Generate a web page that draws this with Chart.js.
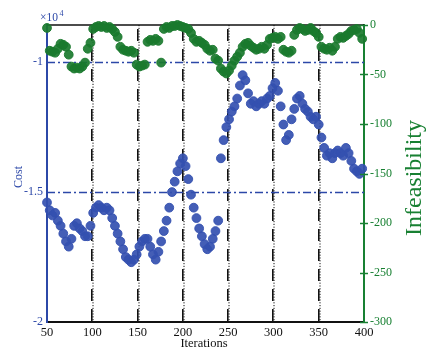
<!DOCTYPE html>
<html lang="en">
  <head>
    <meta charset="utf-8" />
    <title>Cost and infeasibility</title>
    <style>
      * {
        margin: 0;
        padding: 0;
      }
      body {
        background: #fff;
      }
      .chartBox {
        width: 426px;
        height: 352px;
      }
    </style>
  </head>
  <body>
    <div class="chartBox">
      <canvas id="myChart" width="426" height="352"></canvas>
    </div>
    <script src="https://cdn.jsdelivr.net/npm/chart.js/dist/chart.umd.min.js"></script>
    <script>
      // setup
      const iterations = [
        50, 53, 56, 59, 62, 65, 68, 71, 74, 77, 80, 83, 86, 89, 92, 95, 98,
        101, 104, 107, 110, 113, 116, 119, 122, 125, 128, 131, 134, 137, 140,
        143, 146, 149, 152, 155, 158, 161, 164, 167, 170, 173, 176, 179, 182,
        185, 188, 191, 194, 197, 200, 203, 206, 209, 212, 215, 218, 221, 224,
        227, 230, 233, 236, 239, 242, 245, 248, 251, 254, 257, 260, 263, 266,
        269, 272, 275, 278, 281, 284, 287, 290, 293, 296, 299, 302, 305, 308,
        311, 314, 317, 320, 323, 326, 329, 332, 335, 338, 341, 344, 347, 350,
        353, 356, 359, 362, 365, 368, 371, 374, 377, 380, 383, 386, 389, 392,
        395, 398,
      ];

      // cost in units of 10^4
      const cost = [
        -1.54, -1.57, -1.59, -1.58, -1.61, -1.63, -1.66, -1.69, -1.71, -1.68,
        -1.63, -1.62, -1.64, -1.65, -1.67, -1.67, -1.63, -1.58, -1.56, -1.55,
        -1.56, -1.57, -1.56, -1.57, -1.6, -1.63, -1.66, -1.69, -1.72, -1.75,
        -1.76, -1.77, -1.76, -1.74, -1.71, -1.69, -1.68, -1.68, -1.71, -1.74,
        -1.76, -1.73, -1.69, -1.65, -1.61, -1.56, -1.5, -1.46, -1.42, -1.39,
        -1.37, -1.4, -1.45, -1.51, -1.56, -1.6, -1.64, -1.67, -1.7, -1.72,
        -1.71, -1.68, -1.65, -1.61, -1.37, -1.3, -1.25, -1.22, -1.19, -1.17,
        -1.14, -1.09, -1.05, -1.07, -1.12, -1.16, -1.15, -1.17, -1.16, -1.15,
        -1.16, -1.14, -1.13, -1.1, -1.08, -1.11, -1.17, -1.24, -1.3, -1.28,
        -1.22, -1.18, -1.14, -1.13, -1.16, -1.18, -1.19, -1.21, -1.22, -1.21,
        -1.24, -1.29, -1.33, -1.36, -1.35, -1.37, -1.35, -1.34, -1.35, -1.36,
        -1.33, -1.35, -1.38, -1.41, -1.42, -1.43, -1.41,
      ];

      const infeasibility = [
        -3, -26, -27, -28, -24, -19, -20, -22, -30, -42, -44, -43, -44, -42,
        -38, -24, -18, -4, -2, -1, -2, -1, -3, -2, -4, -7, -12, -22, -25, -26,
        -27, -26, -28, -40, -42, -41, -40, -17, -15, -16, -14, -16, -38, -4,
        -2, -3, -1, -1, 0, -1, -2, -3, -4, -8, -14, -17, -16, -18, -20, -24,
        -26, -25, -34, -36, -44, -47, -49, -46, -41, -36, -32, -28, -22, -19,
        -18, -21, -23, -25, -24, -22, -24, -20, -14, -13, -12, -14, -12, -25,
        -27, -28, -26, -10, -5, -3, -4, -6, -5, -3, -6, -8, -12, -22, -24,
        -25, -23, -26, -22, -14, -12, -13, -11, -9, -6, -5, -4, -8, -14,
      ];

      const iterationTicks = [50, 100, 150, 200, 250, 300, 350, 400];
      const gridIterations = [100, 150, 200, 250, 300, 350];
      const costTicks = [-2, -1.5, -1];
      const costRefLines = [-1, -1.5];

      const BLUE = "rgb(44, 72, 168)";
      const BLUE_PT = "rgba(52, 80, 176, 0.92)";
      const GREEN = "rgb(24, 128, 50)";
      const GREEN_PT = "rgba(26, 122, 46, 0.92)";
      const SERIF = "'Liberation Serif', 'DejaVu Serif', serif";

      const costPoints = iterations.map((it, i) => ({ x: it, y: cost[i] }));
      const infPoints = iterations.map((it, i) => ({
        x: it,
        y: infeasibility[i],
      }));

      // dotted + dashed verticals, dash-dot cost references, frame and titles
      const decorations = {
        id: "decorations",
        beforeDatasetsDraw(chart) {
          const { ctx, chartArea: a, scales } = chart;
          const x = scales.x;
          const yc = scales.yCost;
          ctx.save();
          ctx.strokeStyle = "#111";
          gridIterations.forEach((v) => {
            const px = Math.round(x.getPixelForValue(v));
            ctx.lineWidth = 1;
            ctx.setLineDash([1.2, 1.6]);
            ctx.beginPath();
            ctx.moveTo(px + 1, a.top);
            ctx.lineTo(px + 1, a.bottom);
            ctx.stroke();
            ctx.lineWidth = 1.6;
            ctx.setLineDash([12, 8]);
            ctx.beginPath();
            ctx.moveTo(px - 0.2, a.top + 4);
            ctx.lineTo(px - 0.2, a.bottom);
            ctx.stroke();
          });

          ctx.strokeStyle = BLUE;
          ctx.lineWidth = 1.5;
          ctx.setLineDash([8, 3, 2, 3]);
          costRefLines.forEach((v) => {
            const py = Math.round(yc.getPixelForValue(v)) + 0.5;
            ctx.beginPath();
            ctx.moveTo(a.left, py);
            ctx.lineTo(a.right, py);
            ctx.stroke();
          });

          ctx.setLineDash([]);
          ctx.strokeStyle = "#111";
          ctx.lineWidth = 1.6;
          ctx.beginPath();
          ctx.moveTo(a.left, a.top);
          ctx.lineTo(a.right, a.top);
          ctx.stroke();
          ctx.restore();
        },
        afterDraw(chart) {
          const { ctx, chartArea: a, scales } = chart;
          const yi = scales.yInf;
          ctx.save();

          // right axis ticks cross the axis line
          ctx.strokeStyle = GREEN;
          ctx.lineWidth = 1.5;
          yi.ticks.forEach((t) => {
            const py = Math.round(yi.getPixelForValue(t.value)) + 0.5;
            ctx.beginPath();
            ctx.moveTo(a.right - 4, py);
            ctx.lineTo(a.right + 4, py);
            ctx.stroke();
          });

          // x10^4 multiplier
          ctx.fillStyle = BLUE;
          ctx.textBaseline = "alphabetic";
          ctx.textAlign = "left";
          ctx.font = "11.5px " + SERIF;
          ctx.fillText("×10", 40, 21);
          ctx.font = "8px " + SERIF;
          ctx.fillText("4", 59.5, 15.5);

          // Cost
          ctx.font = "12px " + SERIF;
          ctx.textAlign = "center";
          ctx.textBaseline = "middle";
          ctx.save();
          ctx.translate(19, 177);
          ctx.rotate(-Math.PI / 2);
          ctx.fillText("Cost", 0, 0);
          ctx.restore();

          // Infeasibility
          ctx.fillStyle = GREEN;
          ctx.font = "24px " + SERIF;
          ctx.save();
          ctx.translate(415, 178);
          ctx.rotate(-Math.PI / 2);
          ctx.fillText("Infeasibility", 0, 0);
          ctx.restore();

          // Iterations
          ctx.fillStyle = "#111";
          ctx.font = "12.5px " + SERIF;
          ctx.fillText("Iterations", 204, 344);
          ctx.restore();
        },
      };

      // config
      const config = {
        type: "scatter",
        data: {
          datasets: [
            {
              label: "Infeasibility",
              data: infPoints,
              yAxisID: "yInf",
              clip: 6,
              pointStyle: "circle",
              pointRadius: 4.4,
              backgroundColor: GREEN_PT,
              borderColor: GREEN_PT,
              borderWidth: 1,
            },
            {
              label: "Cost",
              data: costPoints,
              yAxisID: "yCost",
              clip: 6,
              pointStyle: "circle",
              pointRadius: 4.4,
              backgroundColor: BLUE_PT,
              borderColor: BLUE_PT,
              borderWidth: 1,
            },
          ],
        },
        options: {
          responsive: false,
          animation: false,
          layout: { padding: { top: 25, left: 0, right: 0, bottom: 0 } },
          plugins: {
            legend: { display: false },
            tooltip: { enabled: false },
          },
          scales: {
            x: {
              type: "linear",
              min: 50,
              max: 400,
              afterBuildTicks: (s) => {
                s.ticks = iterationTicks.map((v) => ({ value: v }));
              },
              afterFit: (s) => {
                s.height = 30;
              },
              grid: { display: false, drawTicks: false },
              border: { display: true, color: "#111", width: 2 },
              ticks: {
                color: "#111",
                padding: 3,
                maxRotation: 0,
                font: { family: SERIF, size: 12.5 },
              },
            },
            yCost: {
              type: "linear",
              position: "left",
              min: -2,
              max: -0.857,
              afterBuildTicks: (s) => {
                s.ticks = costTicks.map((v) => ({ value: v }));
              },
              afterFit: (s) => {
                s.width = 47;
              },
              grid: { display: false, drawTicks: false },
              border: { display: true, color: BLUE, width: 2 },
              ticks: {
                color: BLUE,
                padding: 4,
                font: { family: SERIF, size: 12 },
                callback: (v) => String(v),
              },
            },
            yInf: {
              type: "linear",
              position: "right",
              min: -300,
              max: 0,
              afterFit: (s) => {
                s.width = 62;
              },
              grid: { display: false, drawTicks: false },
              border: { display: true, color: GREEN, width: 2 },
              ticks: {
                stepSize: 50,
                color: GREEN,
                padding: 6,
                font: { family: SERIF, size: 12 },
              },
            },
          },
        },
        plugins: [decorations],
      };

      // render init block
      const myChart = new Chart(document.getElementById("myChart"), config);
    </script>
  </body>
</html>
